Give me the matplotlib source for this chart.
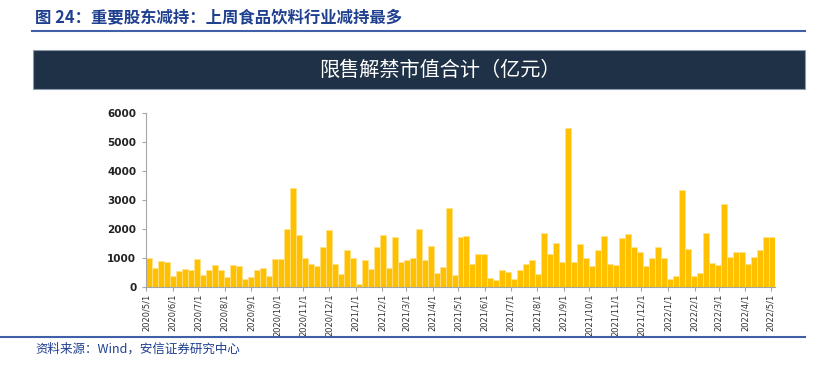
import datetime as dt
import matplotlib
matplotlib.use("Agg")
import matplotlib.pyplot as plt
from matplotlib.patches import Rectangle
from matplotlib.lines import Line2D

plt.rcParams['font.family'] = ['Noto Sans CJK SC', 'DejaVu Sans']

# weekly unlock market value (100 million yuan), first week starts 2020/5/1
start_date = dt.date(2020, 5, 1)
values = [1000, 640, 900, 860, 370, 550, 630, 580, 980, 420,
          575, 770, 595, 345, 760, 735, 280, 340, 590, 660,
          370, 965, 975, 1990, 3420, 1810, 1000, 800, 740, 1390,
          1970, 800, 450, 1260, 1000, 100, 940, 620, 1380, 1780,
          650, 1740, 850, 940, 1000, 1990, 930, 1430, 490, 700,
          2740, 420, 1720, 1750, 790, 1150, 1150, 310, 230, 575,
          505, 265, 600, 805, 940, 435, 1850, 1125, 1505, 875,
          5470, 875, 1470, 1000, 725, 1275, 1750, 790, 760, 1700,
          1815, 1380, 1220, 710, 990, 1380, 990, 265, 370, 3345,
          1320, 370, 470, 1875, 830, 750, 2860, 1045, 1220, 1220,
          780, 1045, 1290, 1710, 1710]
tick_months = [(2020, m) for m in range(5, 13)] + [(2021, m) for m in range(1, 13)] + [(2022, m) for m in range(1, 6)]
yticks = [0, 1000, 2000, 3000, 4000, 5000, 6000]

title = "图 24：重要股东减持：上周食品饮料行业减持最多"
banner = "限售解禁市值合计（亿元）"
source = "资料来源：Wind，安信证券研究中心"

W, H = 837, 369
fig = plt.figure(figsize=(W / 100, H / 100), dpi=100)

def fx(px):
    return px / W

def fy(py):
    return 1 - py / H

# header
fig.text(fx(35), fy(18), title, color="#1F3F8F", fontsize=11.8, fontweight="bold", va="center", ha="left")
fig.add_artist(Line2D([fx(32), fx(805)], [fy(31), fy(31)], color="#3F5FA8", lw=1.5))
fig.add_artist(Rectangle((fx(33), fy(89)), fx(805) - fx(33), fy(50) - fy(89),
                         facecolor="#1F3146", edgecolor="#8C9BAE", lw=0.8))
fig.text(fx(440), fy(70), banner, color="white", fontsize=14.5, fontweight="medium",
         va="center", ha="center")

# bars
ax = fig.add_axes([fx(146), fy(287), fx(775) - fx(146), fy(113) - fy(287)])
x = list(range(len(values)))
ax.bar(x, values, width=1.0, color="#FFC000", edgecolor="#FFE28A", linewidth=0.5)
ax.set_xlim(-0.5, len(values) - 0.5)
ax.set_ylim(0, 6000)

ax.set_yticks(yticks)
ax.set_yticklabels([str(v) for v in yticks], fontsize=7.5, fontweight="bold", color="#222222",
                   family=["DejaVu Sans"])
pos = [(dt.date(y, m, 1) - start_date).days / 7 - 0.5 for y, m in tick_months]
ax.set_xticks(pos)
ax.set_xticklabels([f"{y}/{m}/1" for y, m in tick_months], rotation=90, fontsize=6,
                   color="#333333", family=["DejaVu Sans"])
for s in ["top", "right"]:
    ax.spines[s].set_visible(False)
ax.spines["left"].set_color("#A6A6A6")
ax.spines["bottom"].set_color("#A6A6A6")
ax.tick_params(axis="y", length=3, color="#A6A6A6", pad=4)
ax.tick_params(axis="x", length=3, color="#A6A6A6", pad=2)

# footer
fig.add_artist(Line2D([fx(0), fx(805)], [fy(337), fy(337)], color="#3F5FA8", lw=1.5))
fig.text(fx(35), fy(349), source, color="#1F3F8F", fontsize=9, style="italic", va="center", ha="left")

fig.savefig("out.png", dpi=100)
